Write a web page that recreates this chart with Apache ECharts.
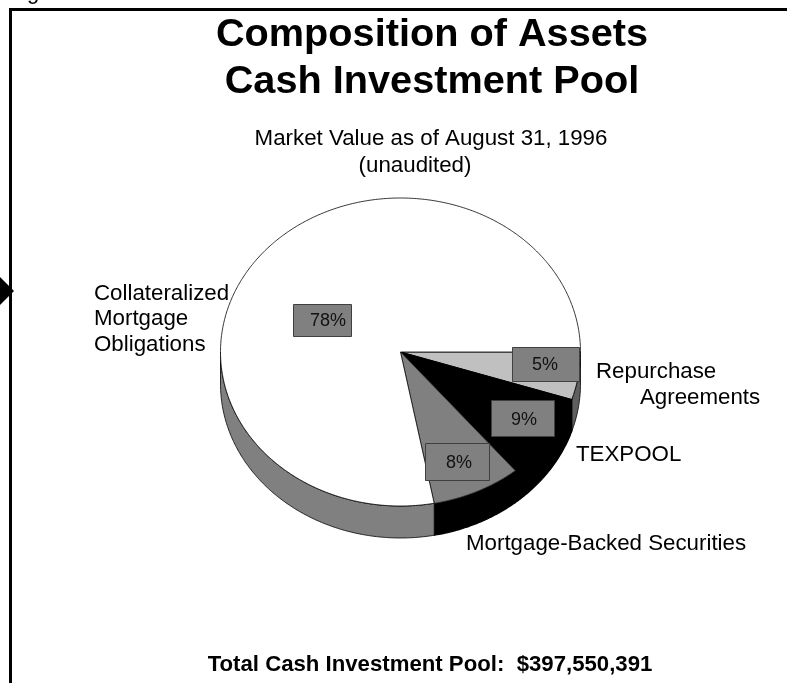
<!DOCTYPE html>
<html>
<head>
<meta charset="utf-8">
<style>html,body{margin:0;padding:0;background:#fff}#c{width:787px;height:683px}</style>
<script src="https://cdn.jsdelivr.net/npm/echarts@6/dist/echarts.min.js"></script>
</head>
<body>
<div id="c"></div>
<script>
const categories = ['Repurchase\nAgreements', 'TEXPOOL', 'Mortgage-Backed Securities', 'Collateralized\nMortgage\nObligations'];
const shares = [5, 9, 8, 78];
const titleLines = ['Composition of Assets', 'Cash Investment Pool'];
const subtitleLines = ['Market Value as of August 31, 1996', '(unaudited)'];
const footer = 'Total Cash Investment Pool:  $397,550,391';

const FONT = '"Liberation Sans", Arial, sans-serif';
const topColors = ['#c0c0c0', '#000000', '#808080', '#ffffff'];
const sideColors = ['#5f5f5f', '#000000', '#000000', '#808080'];
const cx = 400.5, cy = 352, rx = 180, ry = 154, depth = 32;
const boxPlace = [
  {x: 512, y: 347, w: 67, h: 34, tx: 545, ty: 365.5},
  {x: 491, y: 400, w: 63, h: 36, tx: 524, ty: 420.5},
  {x: 425, y: 443, w: 64, h: 37, tx: 459, ty: 463.5},
  {x: 293, y: 304, w: 58, h: 32, tx: 328, ty: 321.5}
];
const namePlace = [
  [{x: 596, y: 372}, {x: 640, y: 398}],
  [{x: 576, y: 455}],
  [{x: 466, y: 544}],
  [{x: 94, y: 294}, {x: 94, y: 319}, {x: 94, y: 345}]
];

const total = shares.reduce((a, b) => a + b, 0);
function range(i) {
  let before = 0;
  for (let k = 0; k < i; k++) before += shares[k];
  return [before / total * 360, (before + shares[i]) / total * 360];
}
function pt(deg, dy) {
  const t = deg * Math.PI / 180;
  return [cx + rx * Math.cos(t), cy + (dy || 0) + ry * Math.sin(t)];
}
function arc(a0, a1, dy) {
  const pts = [];
  const n = Math.max(2, Math.ceil((a1 - a0) * 2));
  for (let k = 0; k <= n; k++) pts.push(pt(a0 + (a1 - a0) * k / n, dy));
  return pts;
}

const option = {
  animation: false,
  backgroundColor: '#ffffff',
  graphic: [
    {type: 'polyline', z: 1, shape: {points: [[10.5, 683], [10.5, 9.5], [787, 9.5]]},
     style: {stroke: '#000', lineWidth: 3, fill: null}},
    {type: 'polygon', z: 1, shape: {points: [[0, 277], [14, 291], [0, 305]]}, style: {fill: '#000'}},
    {type: 'text', z: 2, x: 27, y: -7, style: {text: 'g', font: '22px ' + FONT, fill: '#000', align: 'left', verticalAlign: 'middle'}},
    {type: 'text', z: 2, x: 432, y: 35, style: {text: titleLines[0], font: 'bold 39.7px ' + FONT, fill: '#000', align: 'center', verticalAlign: 'middle'}},
    {type: 'text', z: 2, x: 432, y: 82, style: {text: titleLines[1], font: 'bold 39.7px ' + FONT, fill: '#000', align: 'center', verticalAlign: 'middle'}},
    {type: 'text', z: 2, x: 431, y: 139, style: {text: subtitleLines[0], font: '22.3px ' + FONT, fill: '#000', align: 'center', verticalAlign: 'middle'}},
    {type: 'text', z: 2, x: 415, y: 166, style: {text: subtitleLines[1], font: '22.3px ' + FONT, fill: '#000', align: 'center', verticalAlign: 'middle'}},
    {type: 'text', z: 2, x: 430, y: 665, style: {text: footer, font: 'bold 22.2px ' + FONT, fill: '#000', align: 'center', verticalAlign: 'middle'}}
  ],
  series: [
    {
      type: 'custom', coordinateSystem: 'none', z: 3, silent: true,
      data: shares,
      renderItem: function (p, api) {
        const r = range(p.dataIndex);
        const a0 = r[0], a1 = Math.min(r[1], 180);
        if (a0 >= 180) return {type: 'group', children: []};
        const pts = arc(a0, a1, 0).concat(arc(a0, a1, depth).reverse());
        return {type: 'polygon', shape: {points: pts},
          style: {fill: sideColors[p.dataIndex], stroke: '#000', lineWidth: sideColors[p.dataIndex] === '#000000' ? 1.2 : 0.8}};
      }
    },
    {
      type: 'custom', coordinateSystem: 'none', z: 4, silent: true,
      data: shares,
      renderItem: function (p, api) {
        const i = p.dataIndex;
        const r = range(i);
        const pts = [[cx, cy]].concat(arc(r[0], r[1], 0));
        return {type: 'polygon', shape: {points: pts},
          style: {fill: topColors[i], stroke: i === 2 ? '#333' : '#000', lineWidth: i === 1 ? 1.2 : 0.8, lineJoin: 'bevel'}};
      }
    },
    {
      type: 'custom', coordinateSystem: 'none', z: 5, silent: true,
      data: shares,
      renderItem: function (p, api) {
        const i = p.dataIndex, b = boxPlace[i];
        return {type: 'group', children: [
          {type: 'rect', shape: {x: b.x + 0.5, y: b.y + 0.5, width: b.w, height: b.h},
           style: {fill: '#808080', stroke: '#404040', lineWidth: 1}},
          {type: 'text', x: b.tx, y: b.ty, style: {text: api.value(0) + '%', font: '18px ' + FONT, fill: '#111', align: 'center', verticalAlign: 'middle'}}
        ]};
      }
    },
    {
      type: 'custom', coordinateSystem: 'none', z: 5, silent: true,
      data: categories.map((c, i) => i),
      renderItem: function (p, api) {
        const i = p.dataIndex;
        const lines = categories[i].split('\n');
        return {type: 'group', children: lines.map((t, k) => ({
          type: 'text', x: namePlace[i][k].x, y: namePlace[i][k].y,
          style: {text: t, font: '22.3px ' + FONT, fill: '#000', align: 'left', verticalAlign: 'middle'}
        }))};
      }
    }
  ]
};
echarts.init(document.getElementById('c'), null, {renderer: 'canvas'}).setOption(option);
</script>
</body>
</html>
